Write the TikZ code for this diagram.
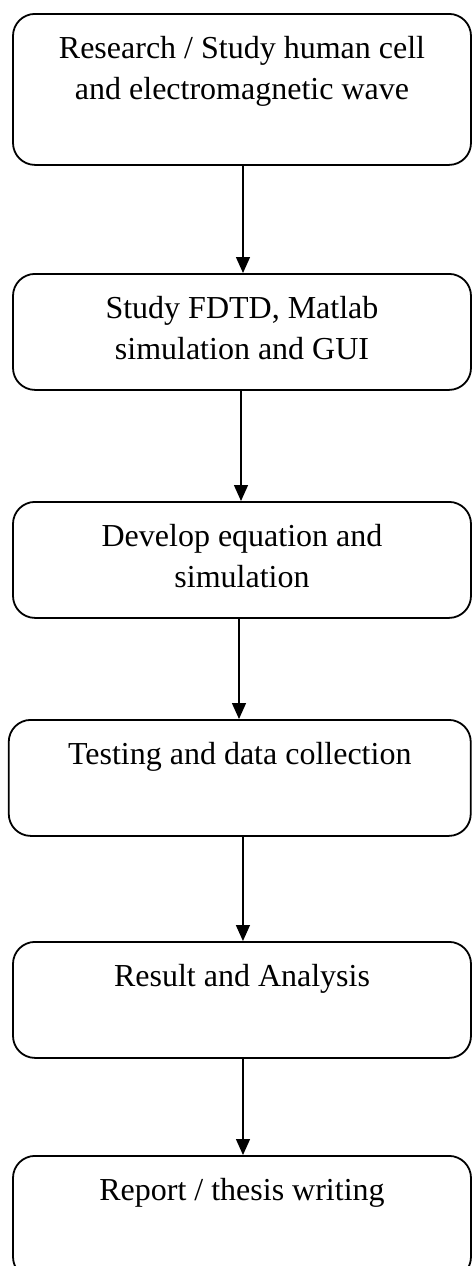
\documentclass[tikz,border=0pt]{standalone}
\usepackage{fontspec}
\setmainfont{Liberation Serif}
\usetikzlibrary{positioning}
\usetikzlibrary{arrows, arrows.meta}

\tikzset{
  stepbox/.style={draw, line width=0.9pt, rounded corners=11pt,
    minimum width=229pt, inner sep=0pt, anchor=north},
  steptext/.style={anchor=north, yshift=-11.6pt, inner sep=0pt,
    align=center, font=\fontsize{16}{20.5}\selectfont},
  flow/.style={line width=0.7pt, -{Triangle[length=8pt,width=7pt]}}
}

\begin{document}
\begin{tikzpicture}[x=0.5pt,y=-0.5pt]
        \useasboundingbox (0,0) rectangle (472,1266);
        % the six stages, top to bottom
        \node[stepbox, minimum height=75.5pt] (research) at (242,13) {};
        \node[stepbox, minimum height=58pt] (fdtd) at (242,273) {};
        \node[stepbox, minimum height=58pt] (develop) at (242,501) {};
        \node[stepbox, minimum height=58pt, minimum width=231pt] (testing) at (239.75,719) {};
        \node[stepbox, minimum height=58pt] (result) at (242,941) {};
        \node[stepbox, minimum height=61.5pt] (report) at (242,1155) {};
        % captions sit near the top of each box
        \node[steptext] (researchtxt) at (research.north) {Research / Study human cell\\and electromagnetic wave};
        \node[steptext] (fdtdtxt) at (fdtd.north) {Study FDTD, Matlab\\simulation and GUI};
        \node[steptext] (developtxt) at (develop.north) {Develop equation and\\simulation};
        \node[steptext] (testingtxt) at (testing.north) {Testing and data collection};
        \node[steptext] (resulttxt) at (result.north) {Result and Analysis};
        \node[steptext] (reporttxt) at (report.north) {Report / thesis writing};
        % arrows between stages, kept vertical
        \foreach \from/\to/\dx in {research/fdtd/0.5, fdtd/develop/-0.5,
          develop/testing/-1.5, testing/result/1.6, result/report/0.5} {
          \draw[flow] ([xshift=\dx pt]\from.south) -- ([xshift=\dx pt]\from.south |- \to.north);
        }
      \end{tikzpicture}
\end{document}
